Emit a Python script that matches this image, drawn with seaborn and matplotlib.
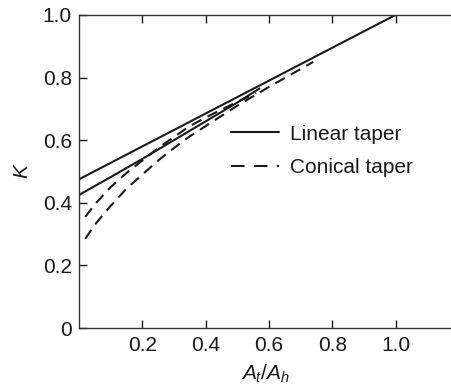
import numpy as np
import pandas as pd
import matplotlib.pyplot as plt
import seaborn as sns

# --- values ---
lin_hi_x = [0.0, 1.0]
lin_hi_k = [0.475, 1.0]
lin_lo_x = [0.0, 0.1, 0.2, 0.3, 0.4, 0.5, 0.57]
lin_lo_k = [0.425, 0.482, 0.54, 0.6, 0.66, 0.72, 0.765]

con_hi_x = [0.02, 0.05, 0.1, 0.15, 0.2, 0.25, 0.3, 0.35, 0.4, 0.45, 0.5, 0.56]
con_hi_k = [0.355, 0.395, 0.45, 0.495, 0.535, 0.575, 0.61, 0.645, 0.672, 0.698, 0.722, 0.75]
con_lo_x = [0.02, 0.05, 0.1, 0.15, 0.2, 0.25, 0.3, 0.35, 0.4, 0.5, 0.6, 0.74]
con_lo_k = [0.285, 0.33, 0.39, 0.445, 0.49, 0.535, 0.575, 0.612, 0.645, 0.71, 0.77, 0.85]

xticks = [0.2, 0.4, 0.6, 0.8, 1.0]
xtick_labels = ["0.2", "0.4", "0.6", "0.8", "1.0"]
yticks = [0, 0.2, 0.4, 0.6, 0.8, 1.0]
ytick_labels = ["0", "0.2", "0.4", "0.6", "0.8", "1.0"]

sns.set_style("ticks")
plt.rcParams["font.family"] = ["Liberation Sans", "DejaVu Sans"]
plt.rcParams["mathtext.fontset"] = "custom"
plt.rcParams["mathtext.it"] = "Liberation Sans:italic"
plt.rcParams["mathtext.rm"] = "Liberation Sans"

fig = plt.figure(figsize=(4.51, 3.92), dpi=100)
ax = fig.add_axes([0.175, 0.163, 0.825, 0.799])

ink = "#1a1a1a"
lw = 1.5
dash = (5.2, 3.3)
fs = 15

sns.lineplot(x=lin_hi_x, y=lin_hi_k, ax=ax, color=ink, lw=lw, label="Linear taper", sort=False)
sns.lineplot(x=lin_lo_x, y=lin_lo_k, ax=ax, color=ink, lw=lw, legend=False, sort=False)
sns.lineplot(x=con_hi_x, y=con_hi_k, ax=ax, color=ink, lw=lw, legend=False, sort=False)
sns.lineplot(x=con_lo_x, y=con_lo_k, ax=ax, color=ink, lw=lw, legend=False, sort=False,
             label="Conical taper")
lines = ax.get_lines()
for ln in lines[2:4]:
    ln.set_dashes(dash)

ax.set_xlim(0, 1.175)
ax.set_ylim(0, 1.0)
ax.set_xticks(xticks)
ax.set_xticklabels(xtick_labels)
ax.set_yticks(yticks)
ax.set_yticklabels(ytick_labels)

ax.tick_params(axis="both", direction="in", length=6, width=1, labelsize=fs,
               color=ink, labelcolor=ink)
ax.tick_params(axis="x", top=True, pad=6)
ax.tick_params(axis="y", pad=5)
for side in ["left", "bottom", "top"]:
    ax.spines[side].set_visible(True)
    ax.spines[side].set_color("#333333")
    ax.spines[side].set_linewidth(1.0)
ax.spines["right"].set_visible(False)

ax.set_xlabel(r"$A_t/A_h$", fontsize=fs, color=ink, labelpad=5)
ax.set_ylabel("K", fontsize=fs, style="italic", color=ink, labelpad=8)

leg = ax.legend(handles=[lines[0], lines[3]], labels=["Linear taper", "Conical taper"],
                frameon=False, fontsize=fs, loc="upper left", bbox_to_anchor=(0.41, 0.65),
                borderaxespad=0, borderpad=0,
                handlelength=2.3, handletextpad=0.5, labelspacing=0.7, labelcolor=ink)
leg.get_lines()[1].set_dashes((6.5, 4.5))

fig.savefig("out.png", dpi=100)
